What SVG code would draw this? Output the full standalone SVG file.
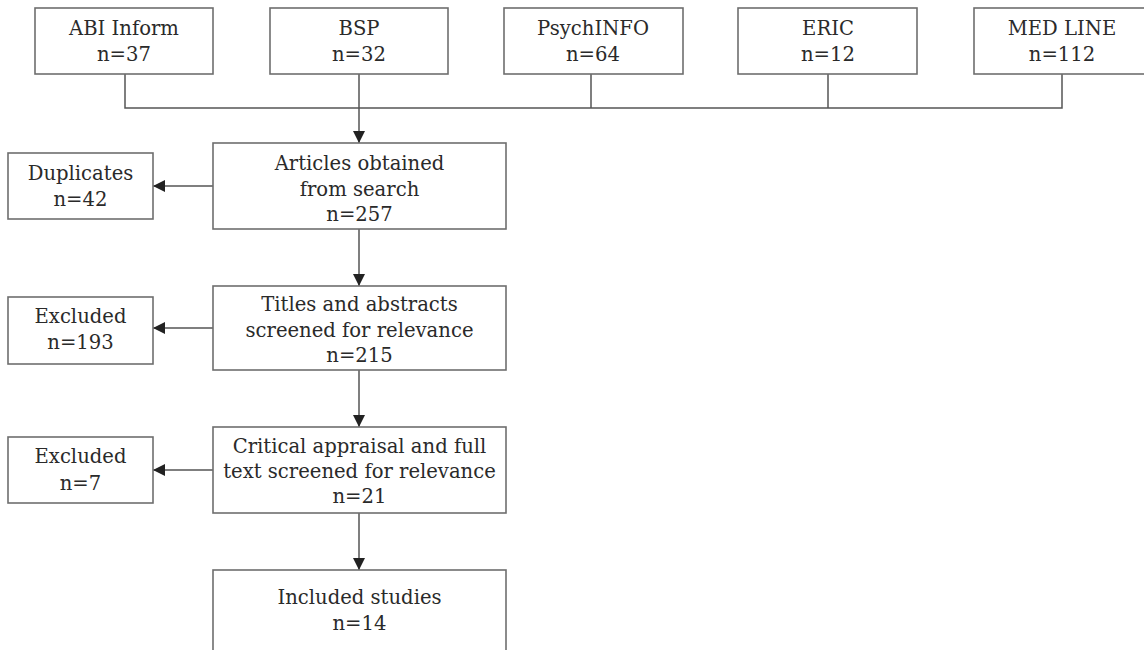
<svg xmlns="http://www.w3.org/2000/svg" width="1144" height="650" viewBox="0 0 1144 650">
<style>
.box{fill:#fff;stroke:#6e6e6e;stroke-width:1.6}
.t{font-family:"DejaVu Serif",serif;font-size:19.6px;fill:#2a2a2a;text-anchor:middle}
.ln{fill:none;stroke:#555;stroke-width:1.5}
</style>
<defs>
<marker id="ah" markerWidth="12" markerHeight="12" refX="12" refY="6" orient="auto" markerUnits="userSpaceOnUse">
<path d="M0,0 L12,6 L0,12 Z" fill="#222"/>
</marker>
</defs>
<rect width="1144" height="650" fill="#fff"/>
<g id="connectors">
<path class="ln" d="M125,74 V108 H1062 V74"/>
<path class="ln" d="M591,74 V108"/>
<path class="ln" d="M828,74 V108"/>
<path class="ln" d="M359,74 V143" marker-end="url(#ah)"/>
<path class="ln" d="M359,229 V286" marker-end="url(#ah)"/>
<path class="ln" d="M359,370 V427" marker-end="url(#ah)"/>
<path class="ln" d="M359,513 V570" marker-end="url(#ah)"/>
<path class="ln" d="M213,186 H153" marker-end="url(#ah)"/>
<path class="ln" d="M213,328 H153" marker-end="url(#ah)"/>
<path class="ln" d="M213,470 H153" marker-end="url(#ah)"/>
</g>
<g id="abi"><rect class="box" x="35" y="8" width="178" height="66"/><text class="t" x="124" y="35">ABI Inform</text><text class="t" x="124" y="61">n=37</text></g>
<g id="bsp"><rect class="box" x="270" y="8" width="178" height="66"/><text class="t" x="359" y="35">BSP</text><text class="t" x="359" y="61">n=32</text></g>
<g id="psychinfo"><rect class="box" x="504" y="8" width="179" height="66"/><text class="t" x="593" y="35">PsychINFO</text><text class="t" x="593" y="61">n=64</text></g>
<g id="eric"><rect class="box" x="738" y="8" width="179" height="66"/><text class="t" x="828" y="35">ERIC</text><text class="t" x="828" y="61">n=12</text></g>
<g id="medline"><rect class="box" x="974" y="8" width="176" height="66"/><text class="t" x="1062" y="35">MED LINE</text><text class="t" x="1062" y="61">n=112</text></g>
<g id="articles"><rect class="box" x="213" y="143" width="293" height="86"/><text class="t" x="359.5" y="170">Articles obtained</text><text class="t" x="359.5" y="195.5">from search</text><text class="t" x="359.5" y="221">n=257</text></g>
<g id="duplicates"><rect class="box" x="8" y="153" width="145" height="66"/><text class="t" x="80.5" y="180">Duplicates</text><text class="t" x="80.5" y="206">n=42</text></g>
<g id="titles"><rect class="box" x="213" y="286" width="293" height="84"/><text class="t" x="359.5" y="311">Titles and abstracts</text><text class="t" x="359.5" y="336.5">screened for relevance</text><text class="t" x="359.5" y="362">n=215</text></g>
<g id="excluded1"><rect class="box" x="8" y="297" width="145" height="67"/><text class="t" x="80.5" y="323">Excluded</text><text class="t" x="80.5" y="349">n=193</text></g>
<g id="critical"><rect class="box" x="213" y="427" width="293" height="86"/><text class="t" x="359.5" y="452.5">Critical appraisal and full</text><text class="t" x="359.5" y="478">text screened for relevance</text><text class="t" x="359.5" y="503">n=21</text></g>
<g id="excluded2"><rect class="box" x="8" y="437" width="145" height="66"/><text class="t" x="80.5" y="463">Excluded</text><text class="t" x="80.5" y="490">n=7</text></g>
<g id="included"><rect class="box" x="213" y="570" width="293" height="95"/><text class="t" x="359.5" y="604">Included studies</text><text class="t" x="359.5" y="630">n=14</text></g>
</svg>
